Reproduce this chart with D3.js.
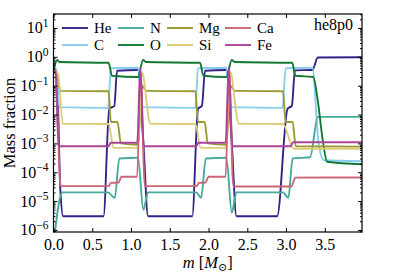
<!DOCTYPE html>
<html>
<head>
<meta charset="utf-8">
<script src="https://cdn.jsdelivr.net/npm/d3@7"></script>
<style>
  body { margin: 0; background: #fff; }
  svg { display: block; }
  text { font-family: "Liberation Serif", "DejaVu Serif", serif; fill: #000; }
</style>
</head>
<body>
<div id="chart"></div>
<script>
// Species in legend order (column-major)
const species = ["He", "C", "N", "O", "Mg", "Si", "Ca", "Fe"];
const colors = ["#332288", "#88CCEE", "#44AA99", "#117733", "#999933", "#DDCC77", "#CC6677", "#AA4499"];

// Mass fraction profiles, [m, X]
const He = [[0, 0.35], [0.04, 0.3], [0.09, 2e-5], [0.125, 3e-6], [0.645, 3e-6], [0.72, 0.016], [0.785, 0.02], [0.82, 0.33], [1.09, 0.35],
  [1.16, 1e-3], [1.22, 3e-6], [1.79, 3e-6], [1.865, 0.016], [1.915, 0.02], [1.955, 0.33], [2.23, 0.35],
  [2.3, 1e-3], [2.36, 3e-6], [2.885, 3e-6], [3.02, 0.016], [3.075, 0.02], [3.115, 0.34], [3.34, 0.35], [3.41, 0.95], [3.98, 0.97]];
const C = [[0, 0.4], [0.035, 0.38], [0.075, 0.018], [0.705, 0.017], [0.74, 0.4], [1.09, 0.42],
  [1.15, 0.018], [1.83, 0.017], [1.865, 0.4], [2.23, 0.42],
  [2.29, 0.018], [2.955, 0.017], [2.995, 0.4], [3.34, 0.42], [3.42, 1e-3], [3.49, 2.6e-4], [3.98, 2.4e-4]];
const N = [[0.01, 5e-7], [0.06, 6e-6], [0.11, 2e-5], [0.7, 2e-5], [0.79, 1.3e-5], [0.85, 3e-4], [1.09, 3.2e-4],
  [1.16, 5e-6], [1.22, 2e-5], [1.84, 2e-5], [1.905, 1.3e-5], [1.965, 3e-4], [2.23, 3.2e-4],
  [2.3, 4e-6], [2.36, 2e-5], [2.96, 2e-5], [3.03, 1.3e-5], [3.085, 3e-4], [3.31, 3.3e-4], [3.41, 8.3e-3], [3.98, 8.3e-3]];
const O = [[0, 0.35], [0.05, 0.78], [0.075, 0.66], [0.71, 0.62], [0.755, 0.22], [1.09, 0.2],
  [1.155, 0.78], [1.19, 0.66], [1.89, 0.62], [1.935, 0.22], [2.23, 0.2],
  [2.3, 0.78], [2.335, 0.66], [3.08, 0.62], [3.12, 0.22], [3.35, 0.2], [3.41, 0.03], [3.47, 1.5e-3], [3.53, 2.3e-4], [3.98, 1.9e-4]];
const Mg = [[0, 0.3], [0.05, 0.2], [0.09, 0.066], [0.71, 0.064], [0.74, 0.0055], [0.825, 0.0055], [0.87, 1e-3], [1.09, 9e-4],
  [1.14, 0.1], [1.2, 0.066], [1.83, 0.064], [1.865, 0.0055], [1.95, 0.0055], [1.99, 1e-3], [2.23, 9e-4],
  [2.28, 0.1], [2.34, 0.066], [2.96, 0.064], [2.995, 0.0055], [3.085, 0.0055], [3.125, 8e-4], [3.98, 7.7e-4]];
const Si = [[0, 0.35], [0.06, 0.25], [0.12, 0.0048], [0.71, 0.0047], [0.775, 7e-4], [1.09, 7e-4],
  [1.14, 0.3], [1.25, 0.0048], [1.83, 0.0047], [1.9, 7e-4], [2.23, 7e-4],
  [2.28, 0.3], [2.39, 0.0048], [2.96, 0.0047], [3.1, 6.5e-4], [3.98, 6.5e-4]];
const Ca = [[0, 0.3], [0.03, 0.25], [0.09, 3.3e-5], [0.71, 3.3e-5], [0.74, 4.3e-5], [0.84, 4.4e-5], [0.875, 7e-5], [1.08, 7e-5],
  [1.12, 0.35], [1.18, 3.3e-5], [1.85, 3.3e-5], [1.875, 4.3e-5], [1.96, 4.4e-5], [2.0, 7e-5], [2.22, 7e-5],
  [2.265, 0.35], [2.32, 3.2e-5], [3.07, 3.2e-5], [3.12, 6.5e-5], [3.98, 6.6e-5]];
const Fe = [[0, 0.35], [0.025, 0.33], [0.065, 8e-4], [0.71, 8e-4], [0.74, 1.05e-3], [1.08, 1.05e-3],
  [1.12, 0.4], [1.165, 8e-4], [1.84, 8e-4], [1.87, 1.05e-3], [2.22, 1.05e-3],
  [2.26, 0.4], [2.31, 8e-4], [3.06, 8e-4], [3.09, 1.1e-3], [3.98, 1.1e-3]];
const profiles = [He, C, N, O, Mg, Si, Ca, Fe];

const xTicks = [0, 0.5, 1.0, 1.5, 2.0, 2.5, 3.0, 3.5];
const yExps = [-6, -5, -4, -3, -2, -1, 0, 1];

const width = 411, height = 274;
const plotL = 53.5, plotR = 362, plotT = 14, plotB = 232;

const svg = d3.select("#chart").append("svg")
    .attr("width", width)
    .attr("height", height);

const x = d3.scaleLinear().domain([0, 3.98]).range([plotL, plotR]);
const y = d3.scaleLog().domain([8.5e-7, 30.5]).range([plotB, plotT]);

svg.append("clipPath").attr("id", "clip")
    .append("rect")
    .attr("x", plotL).attr("y", plotT)
    .attr("width", plotR - plotL).attr("height", plotB - plotT);

// Curves
const line = d3.line()
    .x(d => x(d[0]))
    .y(d => y(d[1]))
    .curve(d3.curveMonotoneX);

svg.append("g")
    .attr("clip-path", "url(#clip)")
    .selectAll("path")
    .data(profiles)
    .enter().append("path")
    .attr("fill", "none")
    .attr("stroke", (d, i) => colors[i])
    .attr("stroke-width", 1.9)
    .attr("stroke-linejoin", "round")
    .attr("d", line);

// Axes, ticks pointing inwards on all four sides
const minorTicks = [];
for (let e = -7; e <= 1; e++) {
    for (let k = 2; k <= 9; k++) {
        const v = k * Math.pow(10, e);
        if (v > y.domain()[0] && v < y.domain()[1]) minorTicks.push(v);
    }
}
const majorTicks = yExps.map(e => Math.pow(10, e));

svg.append("g")
    .attr("transform", `translate(0,${plotB})`)
    .call(d3.axisBottom(x).tickValues(xTicks).tickSize(-4).tickPadding(7).tickFormat(d3.format(".1f")))
    .call(g => g.select(".domain").remove())
    .selectAll("text").style("font-size", "16px").attr("font-family", "Liberation Serif");

svg.append("g")
    .attr("transform", `translate(0,${plotT})`)
    .call(d3.axisTop(x).tickValues(xTicks).tickSize(-4).tickFormat(""))
    .call(g => g.select(".domain").remove());

svg.append("g")
    .attr("transform", `translate(${plotL},0)`)
    .call(d3.axisLeft(y).tickValues(majorTicks).tickSize(-4).tickFormat(""))
    .call(g => g.select(".domain").remove());

svg.append("g")
    .attr("transform", `translate(${plotL},0)`)
    .call(d3.axisLeft(y).tickValues(minorTicks).tickSize(-2).tickFormat(""))
    .call(g => g.select(".domain").remove());

svg.append("g")
    .attr("transform", `translate(${plotR},0)`)
    .call(d3.axisRight(y).tickValues(majorTicks).tickSize(-4).tickFormat(""))
    .call(g => g.select(".domain").remove());

svg.append("g")
    .attr("transform", `translate(${plotR},0)`)
    .call(d3.axisRight(y).tickValues(minorTicks).tickSize(-2).tickFormat(""))
    .call(g => g.select(".domain").remove());

// y tick labels as 10^n
const yLab = svg.append("g");
yExps.forEach(e => {
    const t = yLab.append("text")
        .attr("x", plotL - 5)
        .attr("y", y(Math.pow(10, e)) + 5.5)
        .attr("text-anchor", "end")
        .style("font-size", "16px");
    t.append("tspan").text("10");
    t.append("tspan").attr("dy", -6.5).style("font-size", "11.5px")
        .text(e < 0 ? "\u2212" + Math.abs(e) : String(e));
});

// Frame
svg.append("rect")
    .attr("x", plotL).attr("y", plotT)
    .attr("width", plotR - plotL).attr("height", plotB - plotT)
    .attr("fill", "none").attr("stroke", "#000").attr("stroke-width", 1.2);

// Axis labels
svg.append("text")
    .attr("transform", `translate(15,${(plotT + plotB) / 2}) rotate(-90)`)
    .attr("text-anchor", "middle")
    .style("font-size", "16.5px")
    .text("Mass fraction");

const xl = svg.append("text")
    .attr("x", (plotL + plotR) / 2)
    .attr("y", 268)
    .attr("text-anchor", "middle")
    .style("font-size", "16.5px");
xl.append("tspan").style("font-style", "italic").text("m");
xl.append("tspan").text(" [");
xl.append("tspan").style("font-style", "italic").text("M");
xl.append("tspan").attr("dy", 3).style("font-size", "11px").text("\u2299");
xl.append("tspan").attr("dy", -3).text("]");

// Model name
svg.append("text")
    .attr("x", 353).attr("y", 30)
    .attr("text-anchor", "end")
    .style("font-size", "16px")
    .text("he8p0");

// Legend: 4 columns x 2 rows
const legX = [62, 118, 167, 225];
const legY = [28, 45];
species.forEach((s, i) => {
    const col = Math.floor(i / 2), row = i % 2;
    const lg = svg.append("g").attr("transform", `translate(${legX[col]},${legY[row]})`);
    lg.append("line")
        .attr("x1", 0).attr("x2", 26)
        .attr("stroke", colors[i]).attr("stroke-width", 1.9);
    lg.append("text")
        .attr("x", 32).attr("y", 5)
        .style("font-size", "15px")
        .text(s);
});
</script>
</body>
</html>
